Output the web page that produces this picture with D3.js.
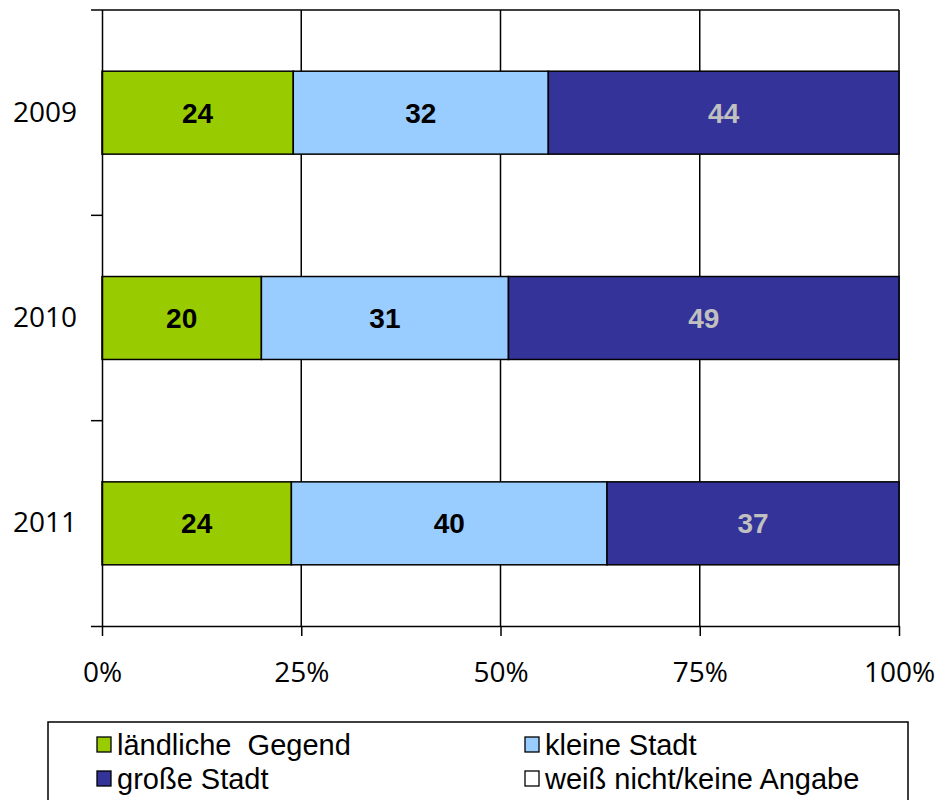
<!DOCTYPE html>
<html><head><meta charset="utf-8">
<script src="https://cdn.jsdelivr.net/npm/d3@7"></script>
<style>body{margin:0;background:#fff}</style>
</head><body>
<svg id="c" width="939" height="800"></svg>
<script>
const categories = ["2009", "2010", "2011"];
const seriesNames = ["ländliche  Gegend", "kleine Stadt", "große Stadt", "weiß nicht/keine Angabe"];
const laendlicheGegend = [24, 20, 24];
const kleineStadt = [32, 31, 40];
const grosseStadt = [44, 49, 37];
const weissNicht = [0, 0, 0];
const xTicks = [0, 0.25, 0.5, 0.75, 1];

const colors = ["#99CC00", "#99CCFF", "#333399", "#FFFFFF"];
const labelColors = ["#000", "#000", "#C0C0C0", "#000"];
const allSeries = [laendlicheGegend, kleineStadt, grosseStadt, weissNicht];

const rows = categories.map((c, i) => {
  const o = {cat: c};
  seriesNames.forEach((s, j) => o[s] = allSeries[j][i]);
  return o;
});
const stack = d3.stack().keys(seriesNames).offset(d3.stackOffsetExpand);
const stacked = stack(rows);

const svg = d3.select("#c");
const L = 102, R = 899, T = 10, B = 626;
const x = d3.scaleLinear().domain([0, 1]).range([L, R]);
const y = d3.scaleBand().domain(categories).range([T, B]).paddingInner(0.596).paddingOuter(0.298);

// gridlines
svg.append("g").selectAll("line").data(xTicks.slice(1)).join("line")
  .attr("x1", d => x(d)).attr("x2", d => x(d)).attr("y1", T).attr("y2", B)
  .attr("stroke", "#000").attr("stroke-width", 1.5);
// top border
svg.append("line").attr("x1", L - 11).attr("x2", R).attr("y1", T).attr("y2", T)
  .attr("stroke", "#000").attr("stroke-width", 1.5);

// bars
const g = svg.append("g");
stacked.forEach((layer, j) => {
  g.append("g").selectAll("rect").data(layer.filter(d => d[1] - d[0] > 0)).join("rect")
    .attr("x", d => x(d[0])).attr("width", d => x(d[1]) - x(d[0]))
    .attr("y", d => y(d.data.cat)).attr("height", y.bandwidth())
    .attr("fill", colors[j]).attr("stroke", "#000").attr("stroke-width", 1.5);
  g.append("g").selectAll("text").data(layer.filter(d => d[1] - d[0] > 0)).join("text")
    .attr("x", d => (x(d[0]) + x(d[1])) / 2)
    .attr("y", d => y(d.data.cat) + y.bandwidth() / 2)
    .attr("dy", "0.36em").attr("text-anchor", "middle")
    .attr("font-family", "Liberation Sans, Arial, sans-serif").attr("font-weight", "bold")
    .attr("font-size", 28).attr("fill", labelColors[j])
    .text(d => d.data[seriesNames[j]]);
});

// x axis
const xAxis = svg.append("g").attr("transform", `translate(0,${B})`)
  .call(d3.axisBottom(x).tickValues(xTicks).tickFormat(d3.format(".0%")).tickSize(10).tickPadding(26));
xAxis.select(".domain").attr("d", `M${L - 11},0.5H${R}`).attr("stroke-width", 1.5);
xAxis.selectAll(".tick line").attr("stroke-width", 1.5);
xAxis.selectAll("text").attr("font-family", "Open Sans, sans-serif").attr("font-size", 28).attr("fill", "#000");

// y axis
const yAxis = svg.append("g").attr("transform", `translate(${L},0)`)
  .call(d3.axisLeft(y).tickSize(0).tickPadding(25));
yAxis.select(".domain").attr("d", `M0.5,${T}V${B}`).attr("stroke-width", 1.5);
yAxis.selectAll("text").attr("font-family", "Open Sans, sans-serif").attr("font-size", 28).attr("fill", "#000");
// boundary ticks between categories
const step = y.step();
const bounds = [B - step, B - 2 * step];
svg.append("g").selectAll("line").data(bounds).join("line")
  .attr("x1", L - 11).attr("x2", L).attr("y1", d => d).attr("y2", d => d)
  .attr("stroke", "#000").attr("stroke-width", 1.5);

// legend
const lg = svg.append("g");
lg.append("rect").attr("x", 48).attr("y", 722).attr("width", 860).attr("height", 82)
  .attr("fill", "#fff").attr("stroke", "#000").attr("stroke-width", 1.5);
const legPos = [[97, 745], [525, 745], [97, 779], [525, 779]];
seriesNames.forEach((s, j) => {
  const [lx, ly] = legPos[j];
  lg.append("rect").attr("x", lx).attr("y", ly - 8).attr("width", 14).attr("height", 15)
    .attr("fill", colors[j]).attr("stroke", "#000").attr("stroke-width", 1.3);
  lg.append("text").attr("x", lx + 20).attr("y", ly).attr("dy", "0.36em")
    .attr("font-family", "Liberation Sans, Arial, sans-serif").attr("font-size", 29)
    .attr("xml:space", "preserve").style("white-space", "pre").text(s);
});
</script>
</body></html>
